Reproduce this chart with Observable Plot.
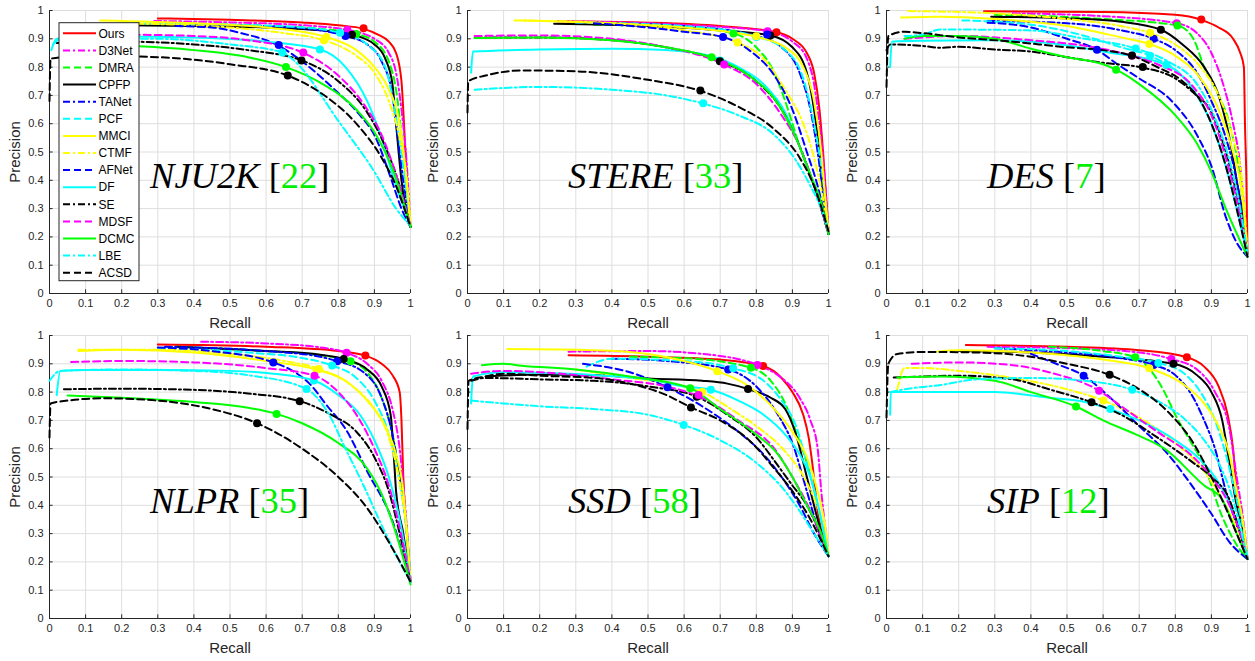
<!DOCTYPE html>
<html><head><meta charset="utf-8">
<script src="https://cdn.jsdelivr.net/npm/d3@7"></script>
<script src="https://cdn.jsdelivr.net/npm/@observablehq/plot@0.6"></script>
<style>
body{margin:0;background:#fff;}
#root{position:relative;width:1255px;height:661px;overflow:hidden;font-family:"Liberation Sans",Arial,sans-serif;}
.panel{position:absolute;}
</style></head><body><div id="root"></div>
<script>
// ---------------- data ----------------
const methods = ["Ours","D3Net","DMRA","CPFP","TANet","PCF","MMCI","CTMF","AFNet","DF","SE","MDSF","DCMC","LBE","ACSD"];
const lineColors = ["#ff0000","#ff00ff","#00ff00","#000000","#0000ff","#00ffff","#ffff00","#ffff00","#0000ff","#00ffff","#000000","#ff00ff","#00ff00","#00ffff","#000000"];
const lineStyles = ["solid","dashdot","dash","solid","dashdot","dash","solid","dashdot","dash","solid","dashdot","dash","solid","dashdot","dash"];
const datasetNames = ["NJU2K","STERE","DES","NLPR","SSD","SIP"];
const datasetRefs = ["22","33","7","35","58","12"];
const tickValues = [0,0.1,0.2,0.3,0.4,0.5,0.6,0.7,0.8,0.9,1];

const nju2kCurves = [
 [[0.3,0.972],[0.5,0.967],[0.7,0.958],[0.8,0.948],[0.87,0.935],[0.91,0.915],[0.94,0.89],[0.96,0.85],[0.975,0.75],[0.982,0.6],[0.99,0.4],[1,0.24]],
 [[0.29,0.963],[0.5,0.958],[0.7,0.948],[0.83,0.93],[0.9,0.9],[0.94,0.85],[0.96,0.78],[0.975,0.65],[0.99,0.45],[1,0.24]],
 [[0.35,0.955],[0.6,0.945],[0.75,0.935],[0.85,0.917],[0.9,0.89],[0.94,0.82],[0.96,0.72],[0.98,0.5],[1,0.24]],
 [[0.14,0.948],[0.4,0.945],[0.6,0.94],[0.75,0.93],[0.84,0.914],[0.9,0.88],[0.93,0.83],[0.95,0.74],[0.96,0.6],[0.975,0.4],[1,0.235]],
 [[0.4,0.95],[0.6,0.945],[0.75,0.93],[0.82,0.91],[0.88,0.88],[0.92,0.82],[0.95,0.7],[0.965,0.55],[0.98,0.4],[1,0.235]],
 [[0.2,0.955],[0.5,0.95],[0.7,0.94],[0.805,0.921],[0.88,0.88],[0.93,0.8],[0.96,0.62],[0.98,0.45],[1,0.24]],
 [[0.14,0.965],[0.4,0.955],[0.6,0.94],[0.77,0.905],[0.85,0.86],[0.9,0.8],[0.94,0.72],[0.97,0.6],[0.985,0.45],[1,0.24]],
 [[0.2,0.955],[0.5,0.94],[0.65,0.92],[0.76,0.895],[0.85,0.84],[0.9,0.78],[0.94,0.68],[0.97,0.55],[0.99,0.4],[1,0.24]],
 [[0.35,0.945],[0.45,0.94],[0.54,0.917],[0.6,0.895],[0.635,0.875],[0.7,0.82],[0.79,0.72],[0.86,0.63],[0.9,0.56],[0.945,0.41],[0.975,0.3],[1,0.235]],
 [[0.005,0.86],[0.02,0.9],[0.2,0.908],[0.4,0.905],[0.6,0.89],[0.75,0.862],[0.82,0.8],[0.88,0.68],[0.92,0.55],[0.955,0.4],[1,0.24]],
 [[0.02,0.885],[0.2,0.89],[0.4,0.88],[0.55,0.86],[0.7,0.823],[0.8,0.75],[0.88,0.64],[0.93,0.52],[0.97,0.38],[1,0.235]],
 [[0.2,0.915],[0.4,0.91],[0.55,0.895],[0.7,0.852],[0.8,0.77],[0.87,0.67],[0.92,0.56],[0.96,0.42],[1,0.24]],
 [[0.2,0.876],[0.4,0.86],[0.55,0.835],[0.655,0.8],[0.75,0.745],[0.85,0.65],[0.9,0.57],[0.95,0.44],[1,0.235]],
 [[0.01,0.88],[0.03,0.9],[0.3,0.9],[0.5,0.88],[0.645,0.852],[0.68,0.82],[0.8,0.61],[0.9,0.43],[0.96,0.3],[1,0.24]],
 [[0,0.68],[0.003,0.83],[0.1,0.84],[0.3,0.835],[0.5,0.81],[0.66,0.77],[0.75,0.71],[0.85,0.6],[0.92,0.48],[0.96,0.38],[1,0.235]]
];
const nju2kDots = [[0.87,0.937],[0.825,0.932],[0.85,0.917],[0.838,0.914],[0.82,0.91],[0.805,0.921],[0.767,0.906],[0.76,0.895],[0.635,0.878],[0.749,0.862],[0.698,0.823],[0.703,0.852],[0.655,0.8],[0.645,0.852],[0.66,0.77]];

const stereCurves = [
 [[0.25,0.962],[0.5,0.957],[0.7,0.945],[0.856,0.923],[0.9,0.9],[0.94,0.85],[0.96,0.78],[0.975,0.65],[0.985,0.5],[1,0.22]],
 [[0.25,0.962],[0.5,0.955],[0.7,0.942],[0.831,0.927],[0.9,0.89],[0.94,0.83],[0.96,0.74],[0.975,0.6],[0.99,0.4],[1,0.22]],
 [[0.35,0.95],[0.6,0.94],[0.737,0.919],[0.8,0.87],[0.85,0.78],[0.88,0.68],[0.92,0.52],[0.96,0.38],[0.99,0.27],[1,0.21]],
 [[0.24,0.953],[0.5,0.945],[0.7,0.93],[0.839,0.912],[0.9,0.87],[0.94,0.78],[0.96,0.65],[0.975,0.5],[0.99,0.3],[1,0.21]],
 [[0.3,0.958],[0.6,0.945],[0.8,0.91],[0.87,0.87],[0.92,0.78],[0.95,0.65],[0.97,0.5],[0.99,0.3],[1,0.21]],
 [[0.3,0.958],[0.6,0.945],[0.8,0.908],[0.88,0.86],[0.93,0.76],[0.96,0.6],[0.98,0.45],[1,0.22]],
 [[0.15,0.965],[0.4,0.955],[0.6,0.94],[0.8,0.907],[0.88,0.87],[0.93,0.8],[0.96,0.68],[0.98,0.5],[0.99,0.35],[1,0.22]],
 [[0.13,0.965],[0.4,0.955],[0.6,0.93],[0.748,0.887],[0.82,0.83],[0.88,0.72],[0.93,0.6],[0.96,0.48],[0.99,0.3],[1,0.22]],
 [[0.35,0.955],[0.5,0.94],[0.6,0.925],[0.708,0.906],[0.78,0.86],[0.85,0.77],[0.9,0.65],[0.94,0.5],[0.97,0.38],[1,0.21]],
 [[0.01,0.78],[0.015,0.855],[0.2,0.862],[0.4,0.865],[0.55,0.86],[0.67,0.84],[0.75,0.8],[0.82,0.74],[0.88,0.64],[0.92,0.52],[0.96,0.38],[1,0.21]],
 [[0.02,0.905],[0.2,0.905],[0.4,0.895],[0.55,0.87],[0.7,0.821],[0.8,0.75],[0.87,0.65],[0.92,0.52],[0.96,0.38],[1,0.21]],
 [[0.02,0.91],[0.2,0.912],[0.4,0.9],[0.55,0.87],[0.711,0.809],[0.8,0.74],[0.87,0.63],[0.92,0.52],[0.95,0.42],[0.98,0.3],[1,0.21]],
 [[0.02,0.903],[0.2,0.905],[0.4,0.895],[0.55,0.87],[0.675,0.834],[0.78,0.77],[0.86,0.67],[0.91,0.55],[0.95,0.42],[0.98,0.32],[1,0.21]],
 [[0.02,0.72],[0.2,0.73],[0.4,0.72],[0.55,0.7],[0.653,0.671],[0.75,0.63],[0.85,0.56],[0.91,0.47],[0.95,0.38],[0.98,0.3],[1,0.22]],
 [[0,0.64],[0.002,0.75],[0.05,0.77],[0.15,0.788],[0.3,0.785],[0.5,0.755],[0.645,0.716],[0.75,0.66],[0.85,0.58],[0.92,0.48],[0.96,0.38],[1,0.22]]
];
const stereDots = [[0.856,0.923],[0.831,0.927],[0.737,0.919],[0.839,0.912],[0.83,0.915],[0.8,0.906],[0.8,0.909],[0.748,0.887],[0.708,0.906],[0.70,0.823],[0.699,0.821],[0.711,0.809],[0.676,0.835],[0.653,0.672],[0.645,0.717]];

const desCurves = [
 [[0.27,0.997],[0.6,0.995],[0.8,0.985],[0.872,0.967],[0.92,0.94],[0.96,0.9],[0.98,0.85],[0.99,0.8],[0.993,0.6],[0.997,0.4],[1,0.14]],
 [[0.35,0.99],[0.6,0.98],[0.804,0.955],[0.86,0.92],[0.9,0.85],[0.93,0.75],[0.96,0.6],[0.98,0.45],[1,0.14]],
 [[0.3,0.985],[0.6,0.97],[0.806,0.947],[0.85,0.9],[0.88,0.8],[0.92,0.7],[0.95,0.6],[0.98,0.4],[1,0.14]],
 [[0.29,0.978],[0.5,0.972],[0.65,0.96],[0.76,0.932],[0.82,0.88],[0.88,0.8],[0.92,0.7],[0.95,0.55],[0.97,0.4],[0.99,0.25],[1,0.14]],
 [[0.28,0.963],[0.5,0.955],[0.65,0.93],[0.74,0.9],[0.8,0.86],[0.86,0.78],[0.9,0.68],[0.94,0.55],[0.97,0.4],[1,0.14]],
 [[0.21,0.965],[0.4,0.95],[0.55,0.91],[0.65,0.87],[0.73,0.84],[0.85,0.72],[0.9,0.6],[0.94,0.45],[0.97,0.3],[1,0.14]],
 [[0.04,0.975],[0.15,0.978],[0.3,0.97],[0.5,0.945],[0.65,0.905],[0.728,0.882],[0.8,0.84],[0.87,0.76],[0.92,0.65],[0.96,0.5],[0.985,0.35],[1,0.14]],
 [[0.06,0.998],[0.3,0.99],[0.5,0.97],[0.65,0.945],[0.73,0.921],[0.8,0.88],[0.87,0.8],[0.92,0.7],[0.96,0.55],[0.985,0.4],[1,0.14]],
 [[0.28,0.957],[0.4,0.94],[0.5,0.9],[0.583,0.861],[0.64,0.81],[0.7,0.76],[0.79,0.68],[0.86,0.56],[0.9,0.45],[0.94,0.27],[0.97,0.18],[1,0.13]],
 [[0.01,0.8],[0.015,0.89],[0.1,0.893],[0.3,0.895],[0.45,0.885],[0.6,0.855],[0.775,0.808],[0.85,0.72],[0.9,0.6],[0.94,0.45],[0.97,0.3],[1,0.13]],
 [[0,0.86],[0.01,0.88],[0.1,0.875],[0.15,0.868],[0.2,0.872],[0.3,0.862],[0.4,0.855],[0.5,0.835],[0.6,0.815],[0.71,0.798],[0.8,0.76],[0.85,0.71],[0.9,0.64],[0.94,0.5],[0.97,0.35],[1,0.14]],
 [[0.05,0.9],[0.2,0.91],[0.4,0.895],[0.55,0.875],[0.68,0.84],[0.75,0.81],[0.85,0.73],[0.9,0.63],[0.94,0.48],[0.97,0.33],[1,0.14]],
 [[0.05,0.9],[0.1,0.91],[0.2,0.91],[0.3,0.9],[0.4,0.865],[0.5,0.835],[0.6,0.81],[0.636,0.791],[0.7,0.74],[0.8,0.63],[0.86,0.53],[0.9,0.43],[0.94,0.3],[1,0.13]],
 [[0.05,0.91],[0.1,0.915],[0.15,0.933],[0.39,0.93],[0.55,0.9],[0.69,0.866],[0.78,0.82],[0.86,0.74],[0.91,0.62],[0.95,0.47],[0.98,0.3],[1,0.14]],
 [[0,0.73],[0.005,0.91],[0.05,0.925],[0.1,0.92],[0.2,0.905],[0.35,0.89],[0.5,0.87],[0.6,0.86],[0.68,0.84],[0.75,0.8],[0.82,0.75],[0.87,0.68],[0.9,0.6],[0.94,0.45],[0.97,0.3],[1,0.13]]
];
const desDots = [[0.872,0.968],[0.804,0.955],[0.806,0.947],[0.76,0.932],[0.74,0.9],[0.73,0.84],[0.728,0.882],[0.73,0.921],[0.583,0.861],[0.775,0.808],[0.71,0.8],[0.68,0.84],[0.636,0.791],[0.69,0.866],[0.68,0.841]];

const nlprCurves = [
 [[0.3,0.968],[0.6,0.96],[0.8,0.945],[0.875,0.929],[0.92,0.9],[0.95,0.86],[0.97,0.8],[0.975,0.7],[0.98,0.5],[0.99,0.3],[1,0.13]],
 [[0.42,0.978],[0.6,0.972],[0.75,0.958],[0.823,0.939],[0.88,0.9],[0.92,0.84],[0.95,0.74],[0.97,0.6],[0.985,0.4],[1,0.13]],
 [[0.35,0.96],[0.6,0.945],[0.75,0.93],[0.834,0.909],[0.88,0.87],[0.92,0.78],[0.95,0.65],[0.97,0.5],[0.99,0.3],[1,0.13]],
 [[0.35,0.96],[0.6,0.945],[0.75,0.932],[0.815,0.917],[0.88,0.88],[0.92,0.82],[0.945,0.72],[0.955,0.55],[0.96,0.45],[0.98,0.3],[1,0.13]],
 [[0.32,0.96],[0.6,0.945],[0.75,0.925],[0.797,0.909],[0.87,0.87],[0.92,0.78],[0.95,0.65],[0.97,0.5],[0.99,0.3],[1,0.13]],
 [[0.3,0.955],[0.55,0.94],[0.7,0.92],[0.783,0.894],[0.85,0.85],[0.9,0.77],[0.94,0.65],[0.97,0.48],[0.99,0.3],[1,0.13]],
 [[0.08,0.945],[0.2,0.95],[0.4,0.94],[0.6,0.91],[0.74,0.879],[0.82,0.84],[0.88,0.77],[0.93,0.68],[0.96,0.58],[0.98,0.45],[0.99,0.3],[1,0.13]],
 [[0.08,0.95],[0.3,0.95],[0.5,0.935],[0.65,0.91],[0.746,0.882],[0.84,0.82],[0.9,0.74],[0.94,0.64],[0.97,0.48],[0.99,0.3],[1,0.13]],
 [[0.3,0.958],[0.45,0.945],[0.62,0.905],[0.68,0.87],[0.72,0.83],[0.77,0.75],[0.82,0.67],[0.88,0.52],[0.954,0.33],[0.98,0.22],[1,0.13]],
 [[0.02,0.79],[0.03,0.875],[0.1,0.878],[0.3,0.878],[0.5,0.875],[0.62,0.865],[0.732,0.841],[0.8,0.79],[0.86,0.72],[0.9,0.63],[0.94,0.5],[0.97,0.35],[1,0.13]],
 [[0.04,0.81],[0.2,0.812],[0.4,0.808],[0.55,0.795],[0.693,0.768],[0.78,0.72],[0.85,0.66],[0.9,0.57],[0.94,0.45],[0.97,0.3],[1,0.13]],
 [[0.06,0.906],[0.2,0.91],[0.4,0.905],[0.6,0.885],[0.734,0.858],[0.8,0.8],[0.86,0.7],[0.9,0.6],[0.94,0.47],[0.97,0.32],[1,0.13]],
 [[0.05,0.788],[0.2,0.78],[0.4,0.765],[0.55,0.745],[0.629,0.723],[0.7,0.69],[0.8,0.62],[0.88,0.53],[0.92,0.44],[0.96,0.3],[1,0.12]],
 [[0,0.84],[0.03,0.875],[0.2,0.88],[0.4,0.875],[0.55,0.86],[0.712,0.811],[0.77,0.73],[0.82,0.6],[0.87,0.47],[0.92,0.33],[0.97,0.2],[1,0.13]],
 [[0,0.64],[0.003,0.76],[0.05,0.77],[0.15,0.778],[0.3,0.77],[0.45,0.74],[0.575,0.69],[0.7,0.6],[0.8,0.5],[0.88,0.39],[0.94,0.27],[1,0.13]]
];
const nlprDots = [[0.875,0.929],[0.823,0.939],[0.834,0.909],[0.815,0.917],[0.797,0.909],[0.783,0.894],[0.74,0.879],[0.746,0.882],[0.62,0.905],[0.732,0.841],[0.693,0.768],[0.734,0.858],[0.629,0.723],[0.712,0.811],[0.575,0.69]];

const ssdCurves = [
 [[0.28,0.93],[0.5,0.925],[0.7,0.915],[0.819,0.892],[0.87,0.85],[0.9,0.8],[0.93,0.72],[0.945,0.64],[0.955,0.55],[0.97,0.38],[0.99,0.27],[1,0.22]],
 [[0.28,0.943],[0.5,0.945],[0.65,0.935],[0.803,0.896],[0.87,0.85],[0.92,0.78],[0.95,0.7],[0.97,0.6],[0.98,0.45],[0.99,0.33],[1,0.23]],
 [[0.45,0.925],[0.6,0.92],[0.785,0.886],[0.84,0.84],[0.88,0.76],[0.91,0.66],[0.94,0.55],[0.97,0.4],[1,0.22]],
 [[0.05,0.855],[0.2,0.862],[0.35,0.86],[0.5,0.848],[0.65,0.84],[0.72,0.83],[0.777,0.811],[0.84,0.78],[0.88,0.74],[0.91,0.65],[0.94,0.5],[0.97,0.35],[1,0.22]],
 [[0.4,0.918],[0.55,0.91],[0.722,0.88],[0.8,0.82],[0.86,0.72],[0.9,0.62],[0.94,0.45],[0.97,0.32],[1,0.22]],
 [[0.33,0.89],[0.4,0.918],[0.6,0.91],[0.736,0.884],[0.82,0.84],[0.87,0.77],[0.91,0.68],[0.94,0.55],[0.97,0.4],[1,0.22]],
 [[0.11,0.952],[0.35,0.948],[0.5,0.935],[0.6,0.91],[0.692,0.874],[0.78,0.82],[0.85,0.74],[0.9,0.66],[0.94,0.57],[0.97,0.45],[0.99,0.33],[1,0.23]],
 [[0.3,0.88],[0.45,0.85],[0.6,0.82],[0.65,0.8],[0.73,0.74],[0.8,0.68],[0.88,0.59],[0.94,0.48],[0.98,0.35],[1,0.23]],
 [[0.32,0.9],[0.45,0.87],[0.554,0.817],[0.65,0.75],[0.75,0.66],[0.82,0.58],[0.87,0.5],[0.92,0.4],[0.96,0.3],[1,0.22]],
 [[0.01,0.76],[0.015,0.855],[0.1,0.87],[0.2,0.868],[0.35,0.86],[0.5,0.845],[0.6,0.82],[0.674,0.808],[0.75,0.77],[0.82,0.72],[0.88,0.65],[0.92,0.58],[0.95,0.5],[0.98,0.35],[1,0.22]],
 [[0.01,0.84],[0.05,0.85],[0.2,0.845],[0.35,0.84],[0.5,0.82],[0.635,0.784],[0.72,0.72],[0.8,0.64],[0.86,0.54],[0.9,0.47],[0.94,0.4],[0.97,0.32],[1,0.22]],
 [[0.01,0.865],[0.1,0.875],[0.3,0.86],[0.4,0.845],[0.55,0.82],[0.65,0.78],[0.75,0.7],[0.85,0.6],[0.9,0.5],[0.95,0.38],[1,0.22]],
 [[0.04,0.895],[0.1,0.9],[0.15,0.893],[0.3,0.88],[0.45,0.855],[0.617,0.814],[0.7,0.74],[0.8,0.65],[0.86,0.58],[0.9,0.5],[0.94,0.4],[0.98,0.3],[1,0.22]],
 [[0.01,0.77],[0.1,0.76],[0.2,0.75],[0.35,0.74],[0.5,0.72],[0.599,0.684],[0.7,0.63],[0.8,0.55],[0.88,0.45],[0.92,0.38],[0.96,0.3],[1,0.22]],
 [[0,0.67],[0.003,0.84],[0.05,0.855],[0.1,0.865],[0.2,0.858],[0.35,0.85],[0.45,0.83],[0.55,0.79],[0.619,0.746],[0.7,0.7],[0.78,0.63],[0.85,0.53],[0.9,0.45],[0.95,0.35],[1,0.22]]
];
const ssdDots = [[0.819,0.892],[0.803,0.896],[0.785,0.886],[0.777,0.811],[0.722,0.88],[0.736,0.884],[0.692,0.874],[0.65,0.8],[0.554,0.817],[0.674,0.808],[0.635,0.784],[0.64,0.79],[0.617,0.814],[0.599,0.684],[0.619,0.746]];

const sipCurves = [
 [[0.22,0.966],[0.5,0.96],[0.7,0.948],[0.832,0.923],[0.88,0.89],[0.92,0.82],[0.945,0.72],[0.96,0.6],[0.97,0.45],[0.99,0.3],[1,0.21]],
 [[0.28,0.96],[0.5,0.955],[0.7,0.94],[0.789,0.917],[0.86,0.88],[0.91,0.8],[0.95,0.67],[0.97,0.5],[0.99,0.33],[1,0.21]],
 [[0.45,0.96],[0.6,0.945],[0.689,0.923],[0.73,0.88],[0.77,0.8],[0.8,0.72],[0.84,0.63],[0.88,0.54],[0.93,0.36],[0.97,0.26],[1,0.21]],
 [[0.2,0.945],[0.4,0.94],[0.6,0.925],[0.795,0.9],[0.86,0.86],[0.9,0.8],[0.93,0.7],[0.95,0.55],[0.97,0.4],[0.99,0.3],[1,0.21]],
 [[0.3,0.955],[0.5,0.94],[0.65,0.92],[0.74,0.896],[0.8,0.86],[0.85,0.78],[0.88,0.7],[0.91,0.6],[0.94,0.45],[0.97,0.33],[1,0.21]],
 [[0.3,0.955],[0.5,0.945],[0.65,0.925],[0.753,0.903],[0.82,0.87],[0.87,0.8],[0.91,0.7],[0.94,0.58],[0.97,0.42],[0.99,0.3],[1,0.21]],
 [[0.14,0.943],[0.2,0.948],[0.4,0.94],[0.6,0.915],[0.728,0.884],[0.82,0.83],[0.88,0.76],[0.92,0.68],[0.95,0.58],[0.97,0.45],[0.99,0.32],[1,0.21]],
 [[0.03,0.81],[0.05,0.885],[0.1,0.885],[0.2,0.875],[0.35,0.85],[0.5,0.81],[0.601,0.77],[0.7,0.71],[0.8,0.62],[0.88,0.52],[0.93,0.42],[0.97,0.32],[1,0.21]],
 [[0.4,0.935],[0.47,0.9],[0.546,0.858],[0.62,0.78],[0.7,0.68],[0.78,0.58],[0.84,0.48],[0.9,0.37],[0.95,0.27],[1,0.21]],
 [[0.01,0.72],[0.012,0.8],[0.1,0.8],[0.3,0.8],[0.45,0.78],[0.55,0.765],[0.62,0.74],[0.7,0.7],[0.8,0.63],[0.87,0.56],[0.92,0.48],[0.96,0.38],[1,0.22]],
 [[0.02,0.852],[0.1,0.855],[0.2,0.858],[0.35,0.845],[0.45,0.81],[0.568,0.764],[0.65,0.72],[0.75,0.64],[0.85,0.55],[0.9,0.5],[0.95,0.42],[0.98,0.3],[1,0.21]],
 [[0.07,0.9],[0.2,0.905],[0.35,0.895],[0.45,0.87],[0.589,0.805],[0.65,0.75],[0.75,0.66],[0.85,0.57],[0.9,0.5],[0.95,0.4],[0.98,0.3],[1,0.21]],
 [[0.03,0.852],[0.15,0.855],[0.3,0.84],[0.4,0.8],[0.525,0.749],[0.6,0.7],[0.7,0.645],[0.77,0.6],[0.88,0.47],[0.93,0.42],[0.97,0.3],[1,0.21]],
 [[0.01,0.8],[0.05,0.81],[0.15,0.825],[0.25,0.845],[0.4,0.85],[0.55,0.84],[0.681,0.808],[0.75,0.77],[0.83,0.7],[0.88,0.63],[0.92,0.55],[0.96,0.42],[1,0.21]],
 [[0,0.71],[0.005,0.9],[0.03,0.935],[0.1,0.942],[0.25,0.94],[0.4,0.925],[0.5,0.9],[0.618,0.861],[0.7,0.81],[0.78,0.73],[0.85,0.62],[0.9,0.5],[0.94,0.39],[0.97,0.3],[1,0.21]]
];
const sipDots = [[0.832,0.923],[0.789,0.917],[0.689,0.923],[0.795,0.9],[0.74,0.896],[0.753,0.903],[0.728,0.884],[0.601,0.77],[0.546,0.858],[0.62,0.74],[0.568,0.764],[0.589,0.805],[0.525,0.749],[0.681,0.808],[0.618,0.861]];

// ---------------- drawing ----------------
const dashFor = s => s === "dash" ? "7,4" : s === "dashdot" ? "7,3,2,3" : null;
const axisColor = "#262626";
const sansFont = "'Liberation Sans', Arial, Helvetica, sans-serif";
const serifFont = "'Liberation Serif', 'Times New Roman', 'DejaVu Serif', serif";

function drawPanel(curves, dots, idx, withLegend) {
  const col = idx % 3, row = Math.floor(idx / 3);
  const left = [0, 418, 836][col];
  const top = row === 0 ? 0 : 325;
  const width = col === 2 ? 419 : 418;
  const height = row === 0 ? 325 : 336;
  const marginLeft = col === 2 ? 50 : 49;
  const marginBottom = row === 0 ? 32 : 43;

  const marks = [
    Plot.gridX(tickValues, {stroke: "#dedede", strokeOpacity: 1, strokeWidth: 1}),
    Plot.gridY(tickValues, {stroke: "#dedede", strokeOpacity: 1, strokeWidth: 1}),
    Plot.ruleX([0], {stroke: axisColor, strokeWidth: 1}),
    Plot.ruleY([0], {stroke: axisColor, strokeWidth: 1}),
    Plot.ruleX(tickValues, {x: d => d, y1: 0, y2: 0.013, stroke: axisColor}),
    Plot.ruleY(tickValues, {y: d => d, x1: 0, x2: 0.01, stroke: axisColor}),
    Plot.axisX(tickValues, {tickSize: 0, tickPadding: 6, tickFormat: d => String(d), fontSize: 11, fill: axisColor, label: null, fontFamily: sansFont}),
    Plot.axisY(tickValues, {tickSize: 0, tickPadding: 6, tickFormat: d => String(d), fontSize: 11, fill: axisColor, label: null, fontFamily: sansFont}),
    Plot.text(["Recall"], {frameAnchor: "bottom", lineAnchor: "middle", textAnchor: "middle", dy: 30, fontSize: 15, fill: axisColor, fontFamily: sansFont}),
    Plot.text(["Precision"], {frameAnchor: "left", lineAnchor: "middle", textAnchor: "middle", dx: -34, rotate: -90, fontSize: 15, fill: axisColor, fontFamily: sansFont})
  ];
  curves.forEach((pts, i) => {
    marks.push(Plot.line(pts, {
      x: d => d[0], y: d => d[1],
      stroke: lineColors[i], strokeWidth: 2,
      strokeDasharray: dashFor(lineStyles[i]),
      curve: "monotone-x"
    }));
  });
  marks.push(Plot.dot(dots, {x: d => d[0], y: d => d[1], fill: (d, i) => lineColors[i], r: 4, stroke: null}));

  const svg = Plot.plot({
    width, height, marginLeft, marginRight: width - marginLeft - 361, marginTop: 10, marginBottom,
    style: {background: "none", overflow: "visible"},
    x: {domain: [0, 1], label: null, axis: null},
    y: {domain: [0, 1], label: null, axis: null},
    color: {type: "identity"},
    marks
  });

  const sx = svg.scale("x"), sy = svg.scale("y");
  const t = d3.select(svg).append("text")
    .attr("x", sx.apply(0.28)).attr("y", sy.apply(0.371))
    .attr("text-anchor", "start")
    .attr("font-family", serifFont).attr("font-size", 36.5).attr("fill", "#000");
  t.append("tspan").attr("font-style", "italic").text(datasetNames[idx]);
  t.append("tspan").text(" [");
  t.append("tspan").attr("fill", "#00ee00").text(datasetRefs[idx]);
  t.append("tspan").text("]");

  if (withLegend) {
    const bx = sx.apply(0) + 10, by = sy.apply(1) + 12.7;
    const g = d3.select(svg).append("g");
    g.append("rect").attr("x", bx).attr("y", by).attr("width", 80).attr("height", 258)
      .attr("fill", "#fff").attr("stroke", axisColor).attr("stroke-width", 1);
    methods.forEach((m, i) => {
      const cy = by + 10.6 + i * 17.1;
      g.append("line").attr("x1", bx + 4).attr("x2", bx + 37).attr("y1", cy).attr("y2", cy)
        .attr("stroke", lineColors[i]).attr("stroke-width", 2)
        .attr("stroke-dasharray", dashFor(lineStyles[i]));
      g.append("text").attr("x", bx + 39.5).attr("y", cy).attr("dy", "0.35em")
        .attr("text-anchor", "start")
        .attr("font-family", sansFont).attr("font-size", 12).attr("fill", "#000").text(m);
    });
  }

  const div = document.createElement("div");
  div.className = "panel";
  div.style.left = left + "px";
  div.style.top = top + "px";
  div.appendChild(svg);
  document.getElementById("root").appendChild(div);
}

const allCurves = [nju2kCurves, stereCurves, desCurves, nlprCurves, ssdCurves, sipCurves];
const allDots = [nju2kDots, stereDots, desDots, nlprDots, ssdDots, sipDots];
allCurves.forEach((c, i) => drawPanel(c, allDots[i], i, i === 0));
</script></body></html>
